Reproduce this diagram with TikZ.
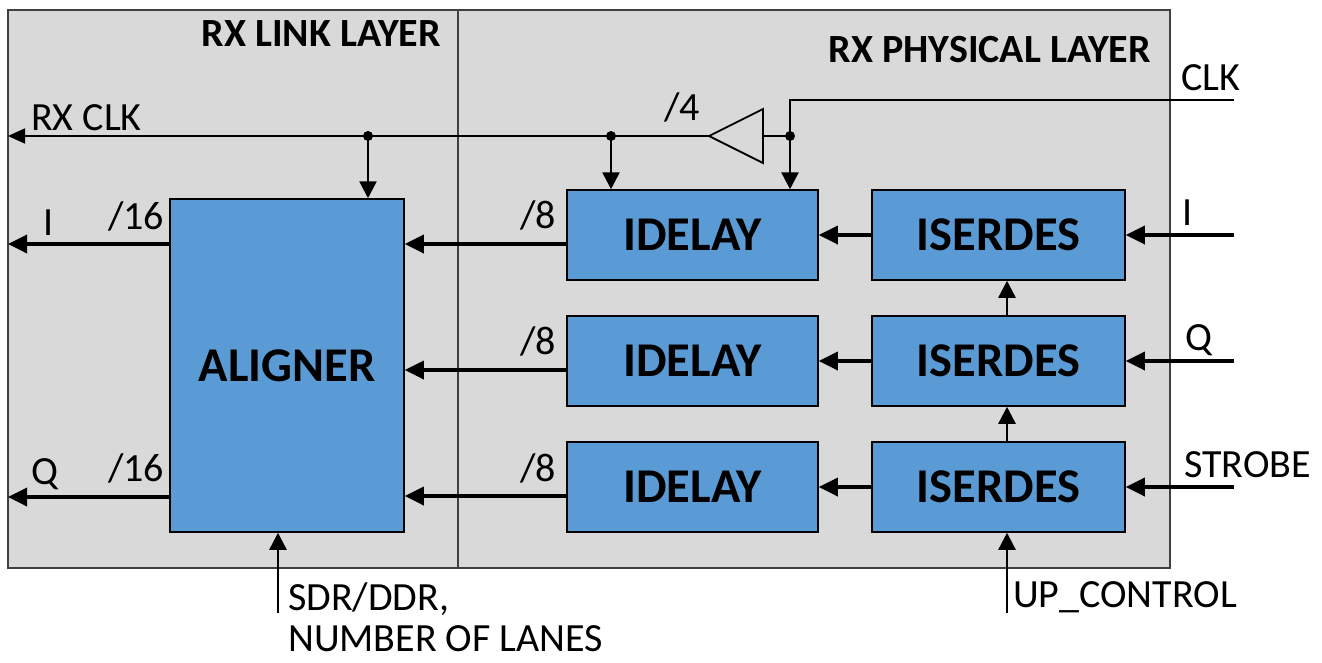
\documentclass[tikz,border=0pt]{standalone}
\usepackage{fontspec}
\setmainfont{Carlito}
\usetikzlibrary{arrows.meta,calc}
\definecolor{panel}{HTML}{D9D9D9}
\definecolor{blk}{HTML}{5B9BD5}
\definecolor{edge}{HTML}{404040}
\begin{document}
\begin{tikzpicture}[x=1pt,y=-1pt,
 box/.style={draw=black,line width=1.5pt,fill=blk,minimum width=251pt,minimum height=90pt,inner sep=0pt,font=\fontsize{48.5}{50}\selectfont\bfseries},
 lbl/.style={font=\fontsize{40}{42}\selectfont,inner sep=0pt},
 ttl/.style={font=\fontsize{40}{42}\selectfont\bfseries,inner sep=0pt},
 data/.style={line width=3.5pt,-{Triangle[length=19pt,width=18pt]}},
 ctl/.style={line width=2.5pt,-{Triangle[length=17pt,width=17pt]}},
 clk/.style={line width=1.8pt},
 clkarr/.style={line width=1.8pt,-{Triangle[length=17pt,width=15pt]}},
 jdot/.style={circle,fill=black,inner sep=0pt,minimum size=10pt}]
\useasboundingbox (0,0) rectangle (1322,662);
% panel
\path[fill=panel,draw=edge,line width=2pt] (8,10) rectangle (1170,568);
\draw[edge,line width=1.8pt] (458,10) -- (458,568);
\node[ttl,anchor=base east] (tlink) at (441,46) {RX LINK LAYER};
\node[ttl,anchor=base east] (tphy) at (1151,62) {RX PHYSICAL LAYER};
% blocks
\node[box,minimum width=234pt,minimum height=333pt] (al) at (287,365.5) {ALIGNER};
\node[box] (d1) at (692.5,235) {IDELAY};
\node[box] (d2) at (692.5,361) {IDELAY};
\node[box] (d3) at (692.5,487) {IDELAY};
\node[box,minimum width=253pt] (s1) at (998.5,235) {ISERDES};
\node[box,minimum width=253pt] (s2) at (998.5,361) {ISERDES};
\node[box,minimum width=253pt] (s3) at (998.5,487) {ISERDES};
% inputs
\coordinate (inI) at (1234,235);
\coordinate (inQ) at (1234,361);
\coordinate (inS) at (1234,487);
\draw[data] (inI) -- (s1.east);
\draw[data] (inQ) -- (s2.east);
\draw[data] (inS) -- (s3.east);
\node[lbl,anchor=base west] (lI) at (1182,225) {I};
\node[lbl,anchor=base west] (lQ) at (1185,350) {Q};
\node[lbl,anchor=base west] (lS) at (1184,477) {STROBE};
% iserdes -> idelay
\draw[data] (s1.west) -- (d1.east);
\draw[data] (s2.west) -- (d2.east);
\draw[data] (s3.west) -- (d3.east);
% iserdes chain
\coordinate (upc) at (1007,613);
\draw[ctl] (upc) -- (upc|-s3.south);
\draw[ctl] (upc|-s3.north) -- (upc|-s2.south);
\draw[ctl] (upc|-s2.north) -- (upc|-s1.south);
\node[lbl,anchor=base west] (lup) at (1013,607) {UP\_CONTROL};
% idelay -> aligner
\draw[data] ([yshift=-9pt]d1.west) -- ([yshift=-9pt]d1.west -| al.east);
\draw[data] ([yshift=-9pt]d2.west) -- ([yshift=-9pt]d2.west -| al.east);
\draw[data] ([yshift=-9pt]d3.west) -- ([yshift=-9pt]d3.west -| al.east);
\node[lbl,anchor=base west] (w1) at (520,228) {/8};
\node[lbl,anchor=base west] (w2) at (520,354) {/8};
\node[lbl,anchor=base west] (w3) at (520,481) {/8};
% aligner outputs
\coordinate (oI) at (8,244);
\coordinate (oQ) at (8,497);
\draw[data] (al.west|-oI) -- (oI);
\draw[data] (al.west|-oQ) -- (oQ);
\node[lbl,anchor=base west] (lIo) at (43,235) {I};
\node[lbl,anchor=base west] (lQo) at (31,484) {Q};
\node[lbl,anchor=base west] (w16a) at (108,229) {/16};
\node[lbl,anchor=base west] (w16b) at (108,481) {/16};
% sdr
\coordinate (sdr) at (278,613);
\draw[ctl] (sdr) -- (sdr|-al.south);
\node[lbl,anchor=base west] (lsdr) at (288,610) {SDR/DDR,};
\node[lbl,anchor=base west] (llanes) at (288,651) {NUMBER OF LANES};
% clock
\coordinate (clkin) at (1234,100);
\coordinate (cbend) at (790,100);
\node[jdot] (j3) at (790,136) {};
\node[jdot] (j2) at (611,136) {};
\node[jdot] (j1) at (368,136) {};
\coordinate (bufin) at (763,136);
\coordinate (bufout) at (709,136);
\coordinate (rxclk) at (8,136);
\draw[line width=1.8pt,fill=panel] (763,109) -- (763,163) -- (bufout) -- cycle;
\draw[clk] (clkin) -- (cbend) -- (j3.center);
\draw[clk] (j3.center) -- (bufin);
\draw[clkarr] (bufout) -- (rxclk);
\draw[ctl] (j3.center) -- (j3|-d1.north);
\draw[ctl] (j2.center) -- (j2|-d1.north);
\draw[ctl] (j1.center) -- (j1|-al.north);
\node[lbl,anchor=base west] (lclk) at (1181,90) {CLK};
\node[lbl,anchor=base west] (lrx) at (31,130) {RX CLK};
\node[lbl,anchor=base west] (l4) at (664,120) {/4};
\end{tikzpicture}
\end{document}
